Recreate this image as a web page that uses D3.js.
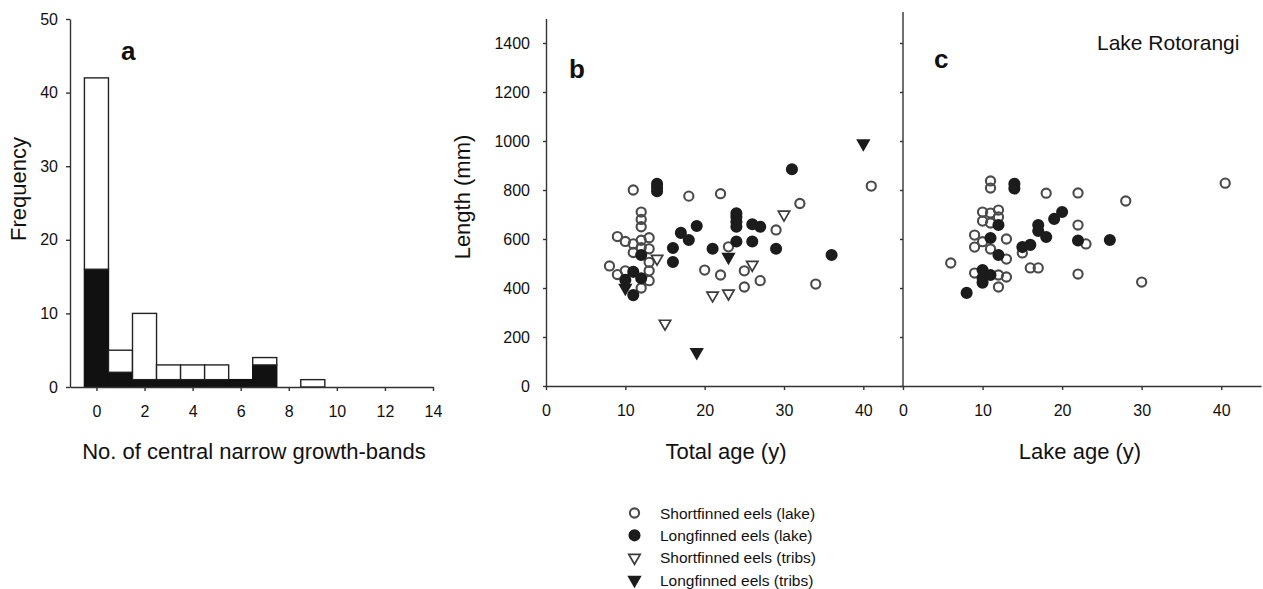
<!DOCTYPE html>
<html>
<head>
<meta charset="utf-8">
<script src="https://cdn.jsdelivr.net/npm/d3@7/dist/d3.min.js"></script>
<style>
  body { margin: 0; background: #fff; }
  svg { display: block; font-family: "Liberation Sans", Arial, Helvetica, sans-serif; }
  .axis path, .axis line { stroke: #333; stroke-width: 1.4; }
  .axis text { font-size: 16px; fill: #111; font-family: "Liberation Sans", Arial, sans-serif; }
</style>
</head>
<body>
<script>
// ---- Panel a: histogram of central narrow growth-bands ----
const bandCounts   = [0, 1, 2, 3, 4, 5, 6, 7, 8, 9, 10, 11, 12, 13];
const longfinFreq  = [16, 2, 1, 1, 1, 1, 1, 3, 0, 0, 0, 0, 0, 0];
const shortfinFreq = [26, 3, 9, 2, 2, 2, 0, 1, 0, 1, 0, 0, 0, 0];
const freqTicks    = [0, 10, 20, 30, 40, 50];
const bandTicks    = [0, 2, 4, 6, 8, 10, 12, 14];

// ---- Panel b: length vs total age [age (y), length (mm)] ----
const bShortLake = [
  [11, 800], [18, 775], [22, 785], [32, 745], [41, 816], [34, 416], [29, 637],
  [25, 470], [27, 430], [25, 404], [23, 568], [20, 473], [22, 453],
  [12, 710], [12, 680], [12, 650],
  [9, 610], [10, 590], [11, 580], [12, 595], [13, 605], [12, 565], [11, 545],
  [13, 560], [13, 505], [8, 490], [9, 455], [13, 470], [13, 430], [12, 400], [10, 470]
];
const bLongLake = [
  [14, 825], [14, 810], [14, 795], [12, 535], [11, 466], [10, 433], [11, 371],
  [12, 440], [16, 563], [16, 506], [17, 625], [18, 596], [19, 653], [21, 560],
  [24, 705], [24, 690], [24, 670], [24, 650], [26, 660], [27, 650], [24, 590],
  [26, 590], [29, 560], [31, 885], [36, 535]
];
const bShortTribs = [[14, 520], [15, 255], [21, 370], [23, 378], [26, 495], [30, 700]];
const bLongTribs  = [[10, 400], [23, 527], [19, 138], [40, 990]];

// ---- Panel c: length vs lake age [age (y), length (mm)] ----
const cShortLake = [
  [11, 837], [11, 808], [18, 787], [22, 788], [28, 755], [22, 657], [23, 580],
  [22, 457], [30, 424], [40.5, 828], [6, 502],
  [10, 710], [11, 706], [12, 718], [10, 673], [11, 665], [12, 690],
  [9, 616], [10, 589], [9, 567], [11, 559], [13, 600], [13, 518],
  [9, 461], [12, 453], [13, 445], [12, 404], [15, 543], [16, 482], [17, 482]
];
const cLongLake = [
  [14, 825], [14, 806], [22, 594], [26, 596], [8, 380], [12, 657], [11, 604],
  [12, 535], [10, 473], [10, 441], [11, 453], [10, 422], [15, 567], [16, 576],
  [17, 657], [17, 633], [18, 608], [19, 682], [20, 710]
];
const lengthTicks = [0, 200, 400, 600, 800, 1000, 1200, 1400];
const ageTicks    = [0, 10, 20, 30, 40];

const legendItems = [
  { label: "Shortfinned eels (lake)",  kind: "openCircle" },
  { label: "Longfinned eels (lake)",   kind: "filledCircle" },
  { label: "Shortfinned eels (tribs)", kind: "openTri" },
  { label: "Longfinned eels (tribs)",  kind: "filledTri" }
];

const W = 1263, H = 589;
const svg = d3.select("body").append("svg").attr("width", W).attr("height", H);
svg.append("rect").attr("width", W).attr("height", H).attr("fill", "#fff");

// ================= Panel a =================
const xA = d3.scaleLinear().domain([-1.1, 14]).range([70, 433]);
const yA = d3.scaleLinear().domain([0, 50]).range([387, 19]);
const gA = svg.append("g");

const stacked = bandCounts.map((b, i) => ({ band: b, lf: longfinFreq[i], sf: shortfinFreq[i] }));
// bottom (black) part
gA.selectAll("rect.lf").data(stacked.filter(d => d.lf > 0)).join("rect")
  .attr("x", d => xA(d.band - 0.5)).attr("width", d => xA(d.band + 0.5) - xA(d.band - 0.5))
  .attr("y", d => yA(d.lf)).attr("height", d => yA(0) - yA(d.lf))
  .attr("fill", "#111").attr("stroke", "#111").attr("stroke-width", 1.4);
// top (white) part
gA.selectAll("rect.sf").data(stacked.filter(d => d.sf > 0)).join("rect")
  .attr("x", d => xA(d.band - 0.5)).attr("width", d => xA(d.band + 0.5) - xA(d.band - 0.5))
  .attr("y", d => yA(d.lf + d.sf)).attr("height", d => yA(d.lf) - yA(d.lf + d.sf))
  .attr("fill", "#fff").attr("stroke", "#222").attr("stroke-width", 1.4);

gA.append("g").attr("class", "axis").attr("transform", `translate(0,${yA(0)})`)
  .call(d3.axisBottom(xA).tickValues(bandTicks).tickSizeInner(4).tickSizeOuter(0).tickPadding(15));
gA.append("g").attr("class", "axis").attr("transform", `translate(${xA.range()[0]},0)`)
  .call(d3.axisLeft(yA).tickValues(freqTicks).tickSizeInner(4).tickSizeOuter(0).tickPadding(8));

gA.append("text").attr("transform", "translate(26,189) rotate(-90)").attr("text-anchor", "middle")
  .attr("font-size", 22).attr("fill", "#111").text("Frequency");
gA.append("text").attr("x", 254).attr("y", 459).attr("text-anchor", "middle")
  .attr("font-size", 22).attr("fill", "#111").text("No. of central narrow growth-bands");
gA.append("text").attr("x", 121).attr("y", 60).attr("font-size", 26).attr("font-weight", "bold")
  .attr("fill", "#111").text("a");

// ================= Panels b and c =================
const xB = d3.scaleLinear().domain([0, 45]).range([546, 903]);
const xC = d3.scaleLinear().domain([0, 45]).range([903, 1261]);
const yL = d3.scaleLinear().domain([0, 1500]).range([386, 18.5]);

const triDown = d3.symbol().type(d3.symbolTriangle).size(56)();

function drawMarks(g, xs, data, kind) {
  if (kind === "openCircle" || kind === "filledCircle") {
    g.append("g").selectAll("circle").data(data).join("circle")
      .attr("cx", d => xs(d[0])).attr("cy", d => yL(d[1]))
      .attr("r", kind === "filledCircle" ? 5 : 4.6)
      .attr("fill", kind === "filledCircle" ? "#1c1c1c" : "none")
      .attr("stroke", kind === "filledCircle" ? "#1c1c1c" : "#4a4a4a")
      .attr("stroke-width", 2.1);
  } else {
    g.append("g").selectAll("path").data(data).join("path")
      .attr("d", triDown)
      .attr("transform", d => `translate(${xs(d[0])},${yL(d[1])}) rotate(180)`)
      .attr("fill", kind === "filledTri" ? "#1c1c1c" : "#fff")
      .attr("stroke", kind === "filledTri" ? "#1c1c1c" : "#3a3a3a")
      .attr("stroke-width", 1.7);
  }
}

const lenFmt = d3.format("d");

const gB = svg.append("g");
gB.append("g").attr("class", "axis").attr("transform", `translate(0,${yL(0)})`)
  .call(d3.axisBottom(xB).tickValues(ageTicks).tickSizeInner(4).tickSizeOuter(0).tickPadding(15));
gB.append("g").attr("class", "axis").attr("transform", `translate(${xB.range()[0]},0)`)
  .call(d3.axisLeft(yL).tickValues(lengthTicks).tickFormat(lenFmt).tickSizeInner(3).tickSizeOuter(0).tickPadding(13));
drawMarks(gB, xB, bShortLake, "openCircle");
drawMarks(gB, xB, bLongLake, "filledCircle");
drawMarks(gB, xB, bShortTribs, "openTri");
drawMarks(gB, xB, bLongTribs, "filledTri");

gB.append("text").attr("transform", "translate(470,197) rotate(-90)").attr("text-anchor", "middle")
  .attr("font-size", 22).attr("fill", "#111").text("Length (mm)");
gB.append("text").attr("x", 726).attr("y", 459).attr("text-anchor", "middle")
  .attr("font-size", 22).attr("fill", "#111").text("Total age (y)");
gB.append("text").attr("x", 569).attr("y", 78).attr("font-size", 26).attr("font-weight", "bold")
  .attr("fill", "#111").text("b");

const gC = svg.append("g");
gC.append("g").attr("class", "axis").attr("transform", `translate(0,${yL(0)})`)
  .call(d3.axisBottom(xC).tickValues(ageTicks).tickSizeInner(4).tickSizeOuter(0).tickPadding(15));
gC.append("g").attr("class", "axis").attr("transform", `translate(${xC.range()[0]},0)`)
  .call(d3.axisLeft(yL).tickValues(lengthTicks).tickFormat("").tickSizeInner(3).tickSizeOuter(0));
gC.select(".axis:last-child .domain").attr("d", `M0,${yL(0)}V12`);
drawMarks(gC, xC, cShortLake, "openCircle");
drawMarks(gC, xC, cLongLake, "filledCircle");

gC.append("text").attr("x", 1080).attr("y", 459).attr("text-anchor", "middle")
  .attr("font-size", 22).attr("fill", "#111").text("Lake age (y)");
gC.append("text").attr("x", 934).attr("y", 68).attr("font-size", 26).attr("font-weight", "bold")
  .attr("fill", "#111").text("c");
gC.append("text").attr("x", 1097).attr("y", 50).attr("font-size", 21)
  .attr("fill", "#111").text("Lake Rotorangi");

// ================= Legend =================
const legendY = d3.scaleLinear().domain([0, 3]).range([513, 580]);
const gL = svg.append("g");
legendItems.forEach((item, i) => {
  const y = legendY(i);
  const row = gL.append("g");
  drawMarks(row, () => 634.5, [[0, yL.invert(y)]], item.kind);
  row.append("text").attr("x", 660).attr("y", y + 5.5).attr("font-size", 15.5)
    .attr("fill", "#111").text(item.label);
});
</script>
</body>
</html>
